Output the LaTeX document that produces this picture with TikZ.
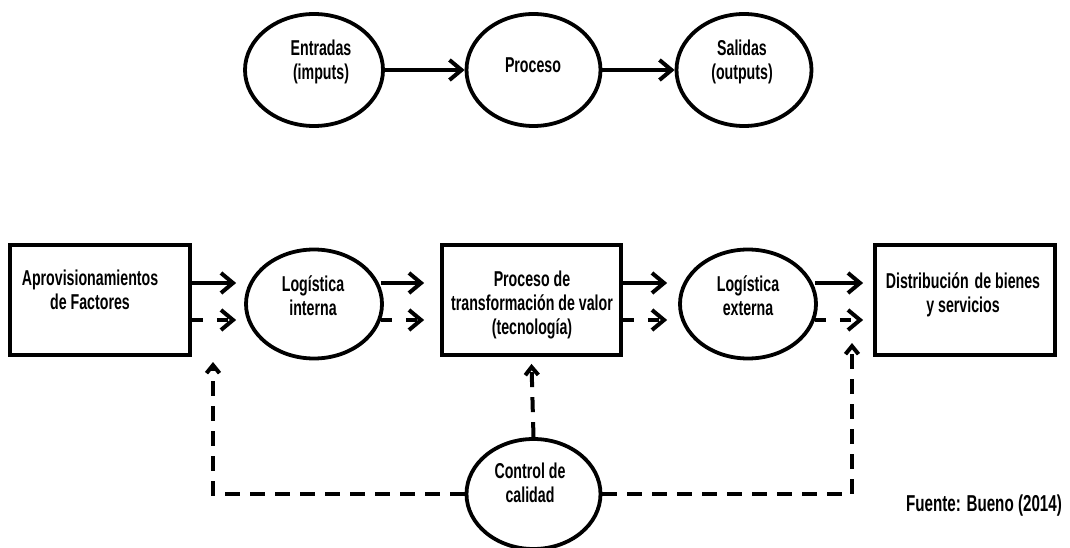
\documentclass[tikz,border=0pt]{standalone}
\usepackage{fontspec}
\setmainfont{Liberation Sans Bold}[FakeStretch=0.66]
\usetikzlibrary{arrows.meta,shapes.geometric}
\begin{document}
\begin{tikzpicture}[x=1pt,y=-1pt,
  every node/.style={font=\fontsize{21.5}{24}\selectfont},
  oval/.style={draw, ellipse, line width=3.8pt, inner sep=0pt},
  stagebox/.style={draw, rectangle, line width=3.8pt, inner sep=0pt,
    minimum height=110pt},
  caption/.style={align=center, inner sep=0pt, anchor=north},
  bigtip/.tip={Straight Barb[length=12pt,width=20pt]},
  smalltip/.tip={Straight Barb[length=8pt,width=13pt]},
  flow/.style={line width=4pt, -bigtip},
  flowdash/.style={line width=4pt, -bigtip, dash pattern=on 11pt off 14pt},
  feedback/.style={line width=4pt, -smalltip, dash pattern=on 15pt off 10pt},
]
\useasboundingbox (0,0) rectangle (1070,548);

% --- simple model: inputs, process, outputs ---
\node[oval, minimum width=138pt, minimum height=112pt] (ent) at (314,70) {};
\node[oval, minimum width=134pt, minimum height=112pt] (pro) at (533.5,70) {};
\node[oval, minimum width=135pt, minimum height=112pt] (sal) at (744,70) {};
\node[caption] (ent-t) at (321,39.5) {Entradas\\(imputs)};
\node[caption] (pro-t) at (533,57.5) {Proceso};
\node[caption] (sal-t) at (742,39.5) {Salidas\\(outputs)};
\draw[flow] (ent) -- (pro);
\draw[flow] (pro) -- (sal);

% --- value chain ---
\node[stagebox, minimum width=180pt] (apr) at (100,300) {};
\node[oval, minimum width=136pt, minimum height=109pt] (lin) at (314,304) {};
\node[stagebox, minimum width=179pt] (tra) at (531.5,300) {};
\node[oval, minimum width=136pt, minimum height=109pt] (lex) at (748,304) {};
\node[stagebox, minimum width=180pt] (dis) at (965,300) {};
\node[oval, minimum width=134pt, minimum height=110pt] (ctl) at (533.5,494) {};

\node[caption] (apr-t) at (90,269.5) {Aprovisionamientos\\de Factores};
\node[caption] (lin-t) at (313,275.5) {Logística\\interna};
\node[caption] (tra-t) at (532,270.5) {Proceso de\\transformación de valor\\(tecnología)};
\node[caption] (lex-t) at (748,275.5) {Logística\\externa};
\node[caption] (dis-t) at (963,272.5) {Distribución\hspace{6pt}de bienes\\y servicios};
\node[caption] (ctl-t) at (530,462.5) {Control de\\calidad};

% flow levels
\coordinate (ys) at (0,283);
\coordinate (yd) at (0,320);

\draw[flow] (apr.east |- ys) -- ([xshift=-8pt]lin.west |- ys);
\draw[flowdash] (apr.east |- yd) -- ([xshift=-8pt]lin.west |- yd);
\draw[flow] ([xshift=-3pt]lin.east |- ys) -- ([xshift=-16pt]tra.west |- ys);
\draw[flowdash] ([xshift=-3pt]lin.east |- yd) -- ([xshift=-16pt]tra.west |- yd);
\draw[flow] (tra.east |- ys) -- ([xshift=-11pt]lex.west |- ys);
\draw[flowdash] (tra.east |- yd) -- ([xshift=-11pt]lex.west |- yd);
\draw[flow] ([xshift=-3pt]lex.east |- ys) -- ([xshift=-10pt]dis.west |- ys);
\draw[flowdash] ([xshift=-3pt]lex.east |- yd) -- ([xshift=-10pt]dis.west |- yd);

% quality control feedback
\coordinate (upL) at (213,362);
\coordinate (upR) at (852,343);
\draw[feedback] (ctl.west) -| (upL);
\draw[feedback] (ctl.north) -- ([yshift=-7pt]tra.south);
\draw[feedback] (ctl.east) -| (upR);

\node[anchor=base, inner sep=0pt, font=\fontsize{23}{26}\selectfont] (src) at (984,511) {Fuente: Bueno (2014)};
\end{tikzpicture}
\end{document}
